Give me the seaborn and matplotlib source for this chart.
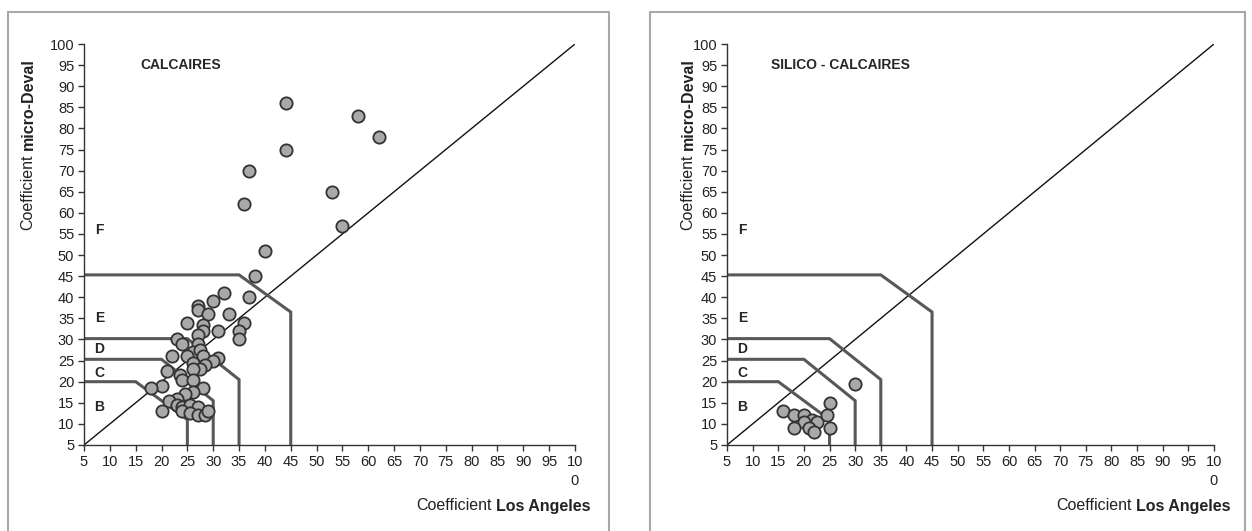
import numpy as np
import pandas as pd
import seaborn as sns
import matplotlib.pyplot as plt
from matplotlib.patches import Rectangle

# Coefficient Los Angeles / micro-Deval values
calc_la = [44, 58, 62, 44, 37, 53, 36, 55, 40, 38,
           32, 37, 30, 27, 27, 29, 33, 25, 36, 28, 28, 31, 35, 35, 27, 23, 24, 27,
           26, 27.5, 22, 25, 28, 31, 30, 26, 28.5, 27.5, 26, 21, 23.5, 24, 26, 20, 18, 28,
           26, 24.5, 23, 21.5, 23, 24, 25.5, 27, 24, 20, 25.5, 27, 28.5, 29]
calc_md = [86, 83, 78, 75, 70, 65, 62, 57, 51, 45,
           41, 40, 39, 38, 37, 36, 36, 34, 34, 33.5, 32, 32, 32, 30, 31, 30, 29, 29,
           27, 27.5, 26, 26, 26, 25.5, 25, 24.5, 24, 23, 23, 22.5, 21.5, 20.5, 20.5, 19, 18.5, 18.5,
           17.5, 17, 16, 15.5, 14.5, 14, 14.5, 14, 13, 13, 12.5, 12, 12, 13]

silico_la = [16, 18, 20, 21.5, 20, 22.5, 18, 21, 22, 24.5, 25, 25, 30]
silico_md = [13, 12, 12, 11, 10.5, 10.5, 9, 9, 8, 12, 15, 9, 19.5]

# class boundaries (B, C, D/E, F)
bound_x = [[5, 15, 25, 25], [5, 20, 30, 30], [5, 25, 35, 35], [5, 35, 45, 45]]
bound_y = [[20, 20, 11, 5], [25.3, 25.3, 15.5, 5], [30.2, 30.2, 20.5, 5], [45.3, 45.3, 36.5, 5]]

zone_names = ["B", "C", "D", "E", "F"]
zone_y = [14, 22, 27.7, 35, 56]

ticks = list(range(5, 101, 5))
tick_labels = [str(t) for t in ticks[:-1]] + ["10\n0"]

sns.set_style("ticks")
plt.rcParams['font.family'] = ['Liberation Sans', 'DejaVu Sans']

fig = plt.figure(figsize=(12.52, 5.31), dpi=100)

# grey frames around each panel
for x0, x1 in [(8, 609), (650, 1245)]:
    fig.patches.append(Rectangle((x0 / 1252, -0.1), (x1 - x0) / 1252, 1 - 12 / 531 + 0.1,
                                 transform=fig.transFigure, fill=False,
                                 edgecolor='#a8a8a8', linewidth=1.5))

panels = [
    ([84 / 1252, 86 / 531, 491 / 1252, 401 / 531], calc_la, calc_md, "CALCAIRES", 16, 28, 590),
    ([727 / 1252, 86 / 531, 487 / 1252, 401 / 531], silico_la, silico_md, "SILICO - CALCAIRES", 13.6, 688, 1230),
]

for rect, la, md, title, tx, ylab_x, xlab_right in panels:
    ax = fig.add_axes(rect)
    df = pd.DataFrame({'la': la, 'md': md})

    ax.plot([5, 100], [5, 100], color='#111111', linewidth=1.0, zorder=1)
    for bx, by in zip(bound_x, bound_y):
        ax.plot(bx, by, color='#585858', linewidth=2.2, zorder=2, solid_joinstyle='miter')

    sns.scatterplot(data=df, x='la', y='md', ax=ax, s=78, color='#a9a9a9',
                    edgecolor='#333333', linewidth=1.3, zorder=3, legend=False)

    for name, zy in zip(zone_names, zone_y):
        ax.text(8, zy, name, fontsize=10, fontweight='bold', ha='center', va='center')
    ax.text(tx, 95, title, fontsize=10, fontweight='bold', ha='left', va='center')

    ax.set_xlim(5, 100)
    ax.set_ylim(5, 100)
    ax.set_xticks(ticks)
    ax.set_xticklabels(tick_labels, va='top', linespacing=1.45)
    ax.set_yticks(ticks)
    ax.tick_params(labelsize=10.5, length=4, width=1, color='#333333', labelcolor='#222222', pad=3)
    sns.despine(ax=ax)
    for sp in ['left', 'bottom']:
        ax.spines[sp].set_color('#333333')
        ax.spines[sp].set_linewidth(1.0)
    ax.set_xlabel('')
    ax.set_ylabel('')

    # y label: "Coefficient" + bold "micro-Deval"
    t1 = fig.text(ylab_x / 1252, 1 - 230 / 531, 'Coefficient', rotation=90,
                  fontsize=11.5, ha='center', va='bottom', color='#222222')
    fig.add_artist(plt.Annotation('micro-Deval', xy=(0.5, 1), xycoords=t1,
                                  xytext=(0, 3), textcoords='offset points',
                                  rotation=90, fontsize=11.5, fontweight='bold',
                                  ha='center', va='bottom', color='#222222'))
    # x label: "Coefficient" + bold "Los Angeles"
    t2 = fig.text(xlab_right / 1252, 25 / 531, 'Los Angeles', fontsize=11.5,
                  fontweight='bold', ha='right', va='center', color='#222222')
    fig.add_artist(plt.Annotation('Coefficient', xy=(0, 0.5), xycoords=t2,
                                  xytext=(-3, 0), textcoords='offset points',
                                  fontsize=11.5, ha='right', va='center', color='#222222'))

fig.savefig('out.png', dpi=100)
